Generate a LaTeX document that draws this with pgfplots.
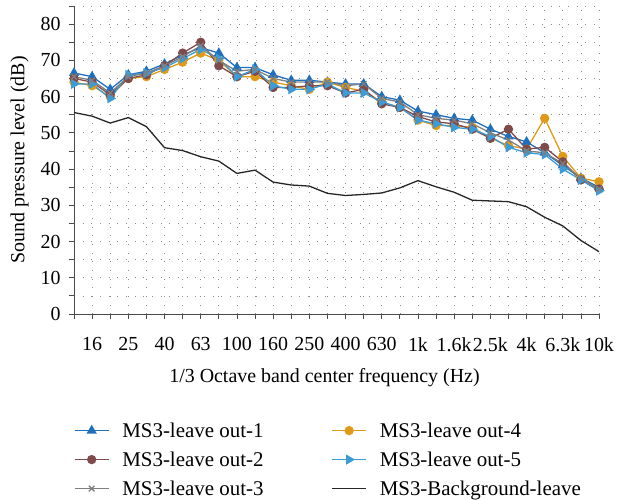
\documentclass[border=0pt]{standalone}
\usepackage{pgfplots}
\pgfplotsset{compat=1.18}
\usepackage{pgfplotstable}
\usepackage{fontspec}
\setmainfont{Liberation Serif}
\definecolor{cA}{HTML}{1F6FBF}
\definecolor{cB}{HTML}{7F4A4A}
\definecolor{cC}{HTML}{7F7F7F}
\definecolor{cD}{HTML}{E09A1A}
\definecolor{cE}{HTML}{3D9BD5}
\pgfplotstableread{
x s1 s2 s3 s4 s5 bg
0 66.5 65 65.5 64 63.5 55.6
1 65.5 64 64.5 63 63.5 54.6
2 62 60.5 61 60 59.5 52.7
3 66 65 65.5 65 66 54.2
4 67 66 66.5 65.5 66.5 51.7
5 69 68.5 68.5 67.5 68 45.9
6 71.5 72 71 69.5 70.5 45.1
7 73.5 75 74 72 73 43.4
8 72 68.5 70 70 70.5 42.2
9 68 65.5 67 65.5 65.5 38.8
10 68 67 67.5 65.5 67.5 39.7
11 66 62.5 65 64 63 36.4
12 64.5 62.5 64 63 62 35.6
13 64.5 63 64 62 62 35.3
14 64 63 64 64 63.5 33.3
15 63.5 61 63 62.5 61 32.7
16 63.5 62 63.5 61.5 61 33.0
17 60 58 59.5 58.5 58.5 33.4
18 59 57 58.5 57 57 34.8
19 56 54.5 55 53.5 53.5 36.8
20 55 53 54 52 52.5 35.1
21 54 52.5 53.5 52 51.5 33.6
22 53.5 51 52.5 51.5 51 31.4
23 51 48.5 50 48.5 49 31.2
24 49 51 48 46.5 46 31.0
25 47.5 45.5 45 45.5 44.5 29.6
26 44.5 46 44.5 54 44 26.7
27 41 42 41.5 43.5 40 24.3
28 37.5 37 37.5 37.5 37 20.3
29 35 34.5 34.5 36.5 34 17.2
}\datatable
\begin{document}
\begin{tikzpicture}
\begin{axis}[
  scale only axis,
  width=525bp, height=308bp,
  xmin=0, xmax=29, ymin=0, ymax=85,
  xtick={0,...,29},
  xticklabels={,16,,25,,40,,63,,100,,160,,250,,400,,630,,1k,,1.6k,,2.5k,,4k,,6.3k,,10k},
  ytick={0,10,...,80},
  minor ytick={5,15,...,85},
  tick align=outside,
  major tick length=5bp, minor tick length=5bp,
  tick style={black!70, line width=0.8pt},
  axis x line*=bottom, axis y line*=left,
  axis line style={black!70, line width=0.8pt, -},
  grid=both,
  major grid style={black!45, line width=0.7pt, dash pattern=on 0.7pt off 8pt},
  minor grid style={black!45, line width=0.7pt, dash pattern=on 0.7pt off 8pt},
  /pgf/number format/assume math mode=true,
  font=\fontsize{20}{24}\selectfont,
  tick label style={font=\fontsize{20}{24}\selectfont},
  xticklabel style={yshift=-15bp},
  yticklabel style={xshift=-5bp},
  xlabel={1/3 Octave band center frequency (Hz)},
  ylabel={Sound pressure level (dB)},
  xlabel style={yshift=-10bp, xshift=-12bp},
  ylabel style={yshift=5bp},
  clip=false,
  legend columns=2,
  legend style={at={(-0.006,-0.339)}, anchor=north west, draw=none, fill=none,
    font=\fontsize{21}{25}\selectfont, row sep=9bp,
    /tikz/every odd column/.append style={column sep=11bp},
    /tikz/every even column/.append style={column sep=66bp}},
  legend cell align=left,
  legend image code/.code={\draw[mark repeat=2,mark phase=2] plot coordinates {(0bp,0bp) (17bp,0bp) (34bp,0bp)};},
  every axis plot/.append style={line width=1.3pt},
]
\addplot[cA, mark=triangle*, mark size=4.6pt] table[x=x,y=s1]{\datatable};
\addlegendentry{MS3-leave out-1}
\addplot[cD, mark=*, mark size=4pt] table[x=x,y=s4]{\datatable};
\addlegendentry{MS3-leave out-4}
\addplot[cB, mark=*, mark size=4pt] table[x=x,y=s2]{\datatable};
\addlegendentry{MS3-leave out-2}
\addplot[cE, mark=triangle*, mark size=4.6pt, mark options={rotate=-90}] table[x=x,y=s5]{\datatable};
\addlegendentry{MS3-leave out-5}
\addplot[cC, mark=x, mark size=4pt] table[x=x,y=s3]{\datatable};
\addlegendentry{MS3-leave out-3}
\addplot[black!85, no marks] table[x=x,y=bg]{\datatable};
\addlegendentry{MS3-Background-leave}
\end{axis}
\pgfresetboundingbox
\path[use as bounding box] ([shift={(-74bp,-186bp)}]current axis.south west) rectangle ([shift={(20bp,6bp)}]current axis.north east);
\end{tikzpicture}
\end{document}
